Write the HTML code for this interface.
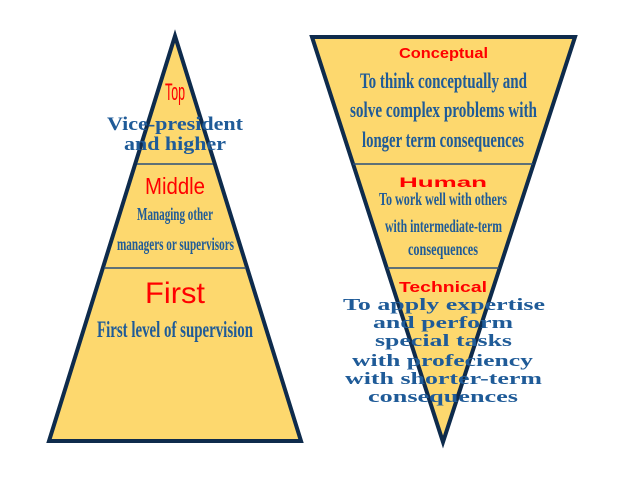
<!DOCTYPE html>
<html>
<head>
<meta charset="utf-8">
<style>
  html,body{margin:0;padding:0;background:#ffffff;}
  svg{display:block;}
  .red{fill:#ff0000;font-family:"Liberation Sans",sans-serif;}
  .cond{fill:#1f5b98;font-family:"Liberation Serif",serif;font-weight:bold;}
  .wide{fill:#1f5b98;font-family:"Liberation Serif",serif;font-weight:bold;}
</style>
</head>
<body>
<svg width="622" height="479" viewBox="0 0 622 479" xmlns="http://www.w3.org/2000/svg">
  <!-- Left pyramid -->
  <polygon points="175,36 49,441 301,441" fill="#fdd86e" stroke="#0e2b4c" stroke-width="4" stroke-linejoin="miter" stroke-miterlimit="10"/>
  <line x1="137" y1="164" x2="213" y2="164" stroke="#2a4f7a" stroke-width="1.5"/>
  <line x1="104" y1="268" x2="246" y2="268" stroke="#2a4f7a" stroke-width="1.5"/>

  <!-- Right inverted pyramid -->
  <polygon points="312,37 575,37 443,442" fill="#fdd86e" stroke="#0e2b4c" stroke-width="4" stroke-linejoin="miter" stroke-miterlimit="10"/>
  <line x1="353" y1="164" x2="533" y2="164" stroke="#2a4f7a" stroke-width="1.5"/>
  <line x1="387" y1="268" x2="499" y2="268" stroke="#2a4f7a" stroke-width="1.5"/>

  <!-- Left texts -->
  <text class="red" x="165" y="100" font-size="24" textLength="20" lengthAdjust="spacingAndGlyphs">Top</text>
  <text class="wide" x="107" y="130" font-size="19" textLength="136" lengthAdjust="spacingAndGlyphs">Vice-president</text>
  <text class="wide" x="124" y="150" font-size="19" textLength="102" lengthAdjust="spacingAndGlyphs">and higher</text>

  <text class="red" x="145" y="194" font-size="23" textLength="60" lengthAdjust="spacingAndGlyphs">Middle</text>
  <text class="cond" x="137" y="220" font-size="18" textLength="76" lengthAdjust="spacingAndGlyphs">Managing other</text>
  <text class="cond" x="117" y="250" font-size="18" textLength="117" lengthAdjust="spacingAndGlyphs">managers or supervisors</text>

  <text class="red" x="145" y="303" font-size="30" textLength="60" lengthAdjust="spacingAndGlyphs">First</text>
  <text class="cond" x="97" y="337" font-size="23" textLength="156" lengthAdjust="spacingAndGlyphs">First level of supervision</text>

  <!-- Right texts -->
  <text class="red" x="399" y="58" font-size="15" font-weight="bold" textLength="89" lengthAdjust="spacingAndGlyphs">Conceptual</text>
  <text class="cond" x="360" y="88" font-size="22" textLength="167" lengthAdjust="spacingAndGlyphs">To think conceptually and</text>
  <text class="cond" x="350" y="117" font-size="22" textLength="187" lengthAdjust="spacingAndGlyphs">solve complex problems with</text>
  <text class="cond" x="362" y="147" font-size="22" textLength="162" lengthAdjust="spacingAndGlyphs">longer term consequences</text>

  <text class="red" x="399" y="187" font-size="14" font-weight="bold" textLength="88" lengthAdjust="spacingAndGlyphs">Human</text>
  <text class="cond" x="379" y="205" font-size="18" textLength="128" lengthAdjust="spacingAndGlyphs">To work well with others</text>
  <text class="cond" x="385" y="232" font-size="18" textLength="117" lengthAdjust="spacingAndGlyphs">with intermediate-term</text>
  <text class="cond" x="408" y="255" font-size="18" textLength="70" lengthAdjust="spacingAndGlyphs">consequences</text>

  <text class="red" x="399" y="292" font-size="15" font-weight="bold" textLength="88" lengthAdjust="spacingAndGlyphs">Technical</text>
  <text class="wide" x="343" y="310" font-size="17" textLength="202" lengthAdjust="spacingAndGlyphs">To apply expertise</text>
  <text class="wide" x="373" y="328" font-size="17" textLength="140" lengthAdjust="spacingAndGlyphs">and perform</text>
  <text class="wide" x="375" y="346" font-size="17" textLength="137" lengthAdjust="spacingAndGlyphs">special tasks</text>
  <text class="wide" x="352" y="366" font-size="17" textLength="181" lengthAdjust="spacingAndGlyphs">with profeciency</text>
  <text class="wide" x="345" y="384" font-size="17" textLength="197" lengthAdjust="spacingAndGlyphs">with shorter-term</text>
  <text class="wide" x="368" y="402" font-size="17" textLength="150" lengthAdjust="spacingAndGlyphs">consequences</text>
</svg>
</body>
</html>
